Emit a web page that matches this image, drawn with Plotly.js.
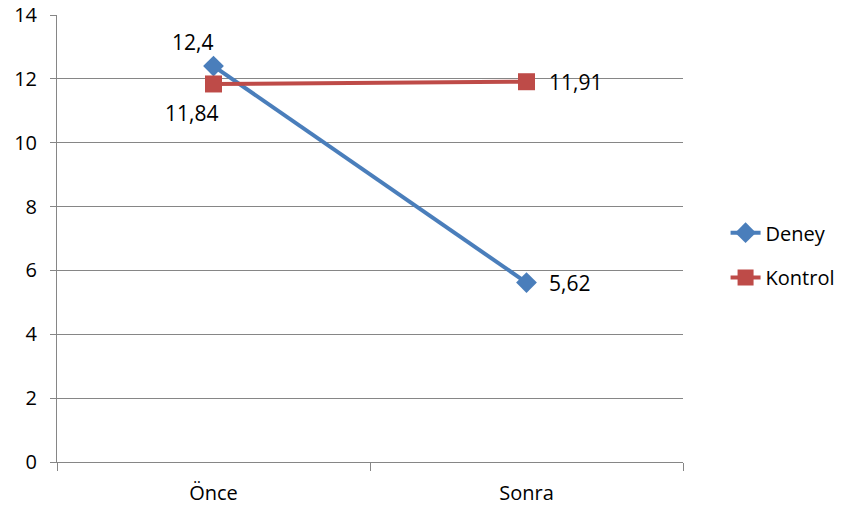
<!DOCTYPE html>
<html><head><meta charset="utf-8">
<script src="https://cdn.plot.ly/plotly-3.0.1.min.js"></script>
<style>html,body{margin:0;padding:0;background:#fff}#c{width:852px;height:508px}</style>
</head><body><div id="c"></div>
<script>
const categories = ['Önce', 'Sonra'];
const deney = [12.4, 5.62];
const kontrol = [11.84, 11.91];
const yTicks = [0, 2, 4, 6, 8, 10, 12, 14];
const deneyLabels = ['12,4', '5,62'];
const kontrolLabels = ['11,84', '11,91'];

const font = {family: 'Open Sans, Liberation Sans, sans-serif', size: 20, color: '#000'};
const labelFont = {family: 'Open Sans, Liberation Sans, sans-serif', size: 21, color: '#000'};
const traces = [
  {x: categories, y: deney, name: 'Deney', type: 'scatter', mode: 'lines+markers',
   line: {color: '#4A7EBB', width: 4},
   marker: {symbol: 'diamond', size: 16, color: '#4A7EBB'},
   legend: 'legend', cliponaxis: false},
  {x: categories, y: kontrol, name: 'Kontrol', type: 'scatter', mode: 'lines+markers',
   line: {color: '#BE4B48', width: 4},
   marker: {symbol: 'square', size: 17, color: '#BE4B48'},
   legend: 'legend2', cliponaxis: false}
];
const annotations = [
  {x: categories[0], y: deney[0], text: deneyLabels[0], xshift: -21, yshift: 24},
  {x: categories[1], y: deney[1], text: deneyLabels[1], xanchor: 'left', xshift: 20, yshift: 0},
  {x: categories[0], y: kontrol[0], text: kontrolLabels[0], xshift: -22, yshift: -29},
  {x: categories[1], y: kontrol[1], text: kontrolLabels[1], xanchor: 'left', xshift: 20, yshift: 0}
].map(a => Object.assign({showarrow: false, font: labelFont, xref: 'x', yref: 'y'}, a));

const layout = {
  width: 852, height: 508,
  margin: {l: 57, r: 167, t: 15, b: 46},
  paper_bgcolor: '#fff', plot_bgcolor: '#fff',
  font: font,
  annotations: annotations,
  xaxis: {type: 'category', range: [-0.5, 1.5], showline: true, linecolor: '#868686', linewidth: 1,
          ticks: 'outside', tickson: 'boundaries', ticklen: 8, tickcolor: '#868686',
          ticklabelstandoff: 13,
          showgrid: false, zeroline: false, tickfont: font},
  yaxis: {range: [0, 14], tickvals: yTicks, showline: true, linecolor: '#868686', linewidth: 1,
          ticks: 'outside', ticklen: 6, tickcolor: '#868686', ticklabelstandoff: 9,
          showgrid: true, gridcolor: '#868686', gridwidth: 1, zeroline: false, tickfont: font},
  legend: {x: 1.068, y: 0.513, xanchor: 'left', yanchor: 'middle', font: font, bgcolor: 'rgba(0,0,0,0)'},
  legend2: {x: 1.068, y: 0.413, xanchor: 'left', yanchor: 'middle', font: font, bgcolor: 'rgba(0,0,0,0)'},
  showlegend: true
};
Plotly.newPlot('c', traces, layout, {displayModeBar: false, staticPlot: true});
</script>
</body></html>
